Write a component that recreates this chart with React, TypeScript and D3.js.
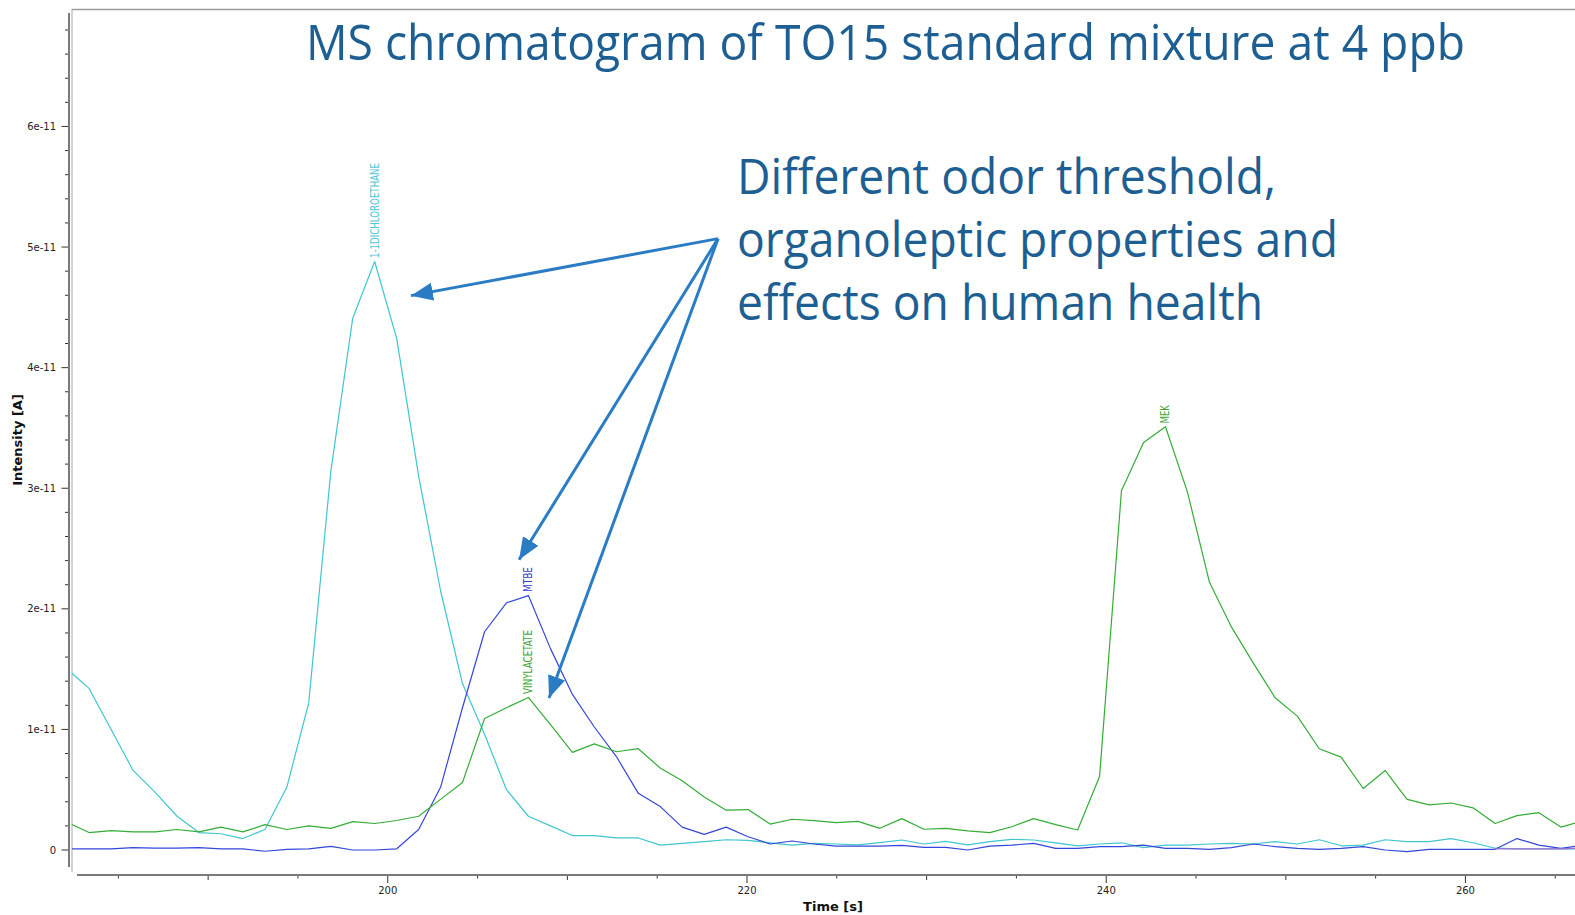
import * as d3 from "d3";

const W = 1575, H = 915;

// retention time of each scan, seconds
const TIMES = [
  182.15, 183.37, 184.6, 185.82, 187.04, 188.27, 189.49, 190.71, 191.93, 193.16,
  194.38, 195.6, 196.83, 198.05, 199.27, 200.5, 201.72, 202.94, 204.16, 205.39,
  206.61, 207.83, 209.06, 210.28, 211.5, 212.73, 213.95, 215.17, 216.39, 217.62,
  218.84, 220.06, 221.29, 222.51, 223.73, 224.96, 226.18, 227.4, 228.62, 229.85,
  231.07, 232.29, 233.52, 234.74, 235.96, 237.19, 238.41, 239.63, 240.85, 242.08,
  243.3, 244.52, 245.75, 246.97, 248.19, 249.42, 250.64, 251.86, 253.08, 254.31,
  255.53, 256.75, 257.98, 259.2, 260.42, 261.65, 262.87, 264.09, 265.31, 266.54,
];

// intensities in units of 1e-12 A
const DICHLOROETHANE = [
  15.0, 13.4, 10.0, 6.6, 4.8, 2.8, 1.45, 1.35, 0.95, 1.7,
  5.2, 12.2, 31.4, 44.1, 48.8, 42.4, 31.0, 21.5, 13.8, 9.6,
  5.0, 2.8, 2.0, 1.2, 1.2, 1.0, 1.0, 0.4, 0.55, 0.7,
  0.85, 0.8, 0.6, 0.4, 0.55, 0.5, 0.42, 0.61, 0.83, 0.5,
  0.72, 0.42, 0.69, 0.89, 0.83, 0.6, 0.35, 0.5, 0.6, 0.2,
  0.4, 0.4, 0.5, 0.55, 0.5, 0.7, 0.5, 0.85, 0.35, 0.4,
  0.85, 0.7, 0.7, 0.95, 0.6, 0.15, 0.1, 0.1, 0.1, 0.1,
];
const MTBE = [
  0.1, 0.1, 0.1, 0.2, 0.15, 0.15, 0.2, 0.1, 0.1, -0.1,
  0.05, 0.1, 0.3, 0.0, 0.0, 0.1, 1.7, 5.2, 11.8, 18.1,
  20.5, 21.1, 16.7, 12.9, 10.2, 7.75, 4.7, 3.6, 1.9, 1.3,
  1.9, 1.1, 0.5, 0.75, 0.5, 0.33, 0.33, 0.33, 0.39, 0.22,
  0.22, 0.0, 0.33, 0.41, 0.55, 0.14, 0.14, 0.28, 0.28, 0.4,
  0.14, 0.14, 0.06, 0.2, 0.5, 0.28, 0.14, 0.06, 0.14, 0.28,
  0.0, -0.14, 0.06, 0.06, 0.06, 0.06, 0.95, 0.4, 0.14, 0.4,
];
// vinyl acetate and MEK share one trace
const VINYL_MEK = [
  2.3, 1.45, 1.6, 1.5, 1.5, 1.7, 1.5, 1.9, 1.5, 2.1,
  1.7, 2.0, 1.8, 2.35, 2.2, 2.45, 2.8, 4.2, 5.6, 10.9,
  11.8, 12.65, 10.4, 8.1, 8.8, 8.15, 8.4, 6.8, 5.75, 4.4,
  3.3, 3.35, 2.15, 2.55, 2.43, 2.27, 2.38, 1.8, 2.6, 1.72,
  1.8, 1.58, 1.44, 1.93, 2.6, 2.1, 1.66, 6.1, 29.8, 33.8,
  35.1, 29.7, 22.2, 18.5, 15.5, 12.6, 11.1, 8.4, 7.7, 5.1,
  6.6, 4.2, 3.75, 3.9, 3.5, 2.2, 2.85, 3.1, 1.9, 2.4,
];
const OTHER = [
  null, null, null, null, null, null, null, null, null, null,
  null, null, null, null, null, null, null, null, null, null,
  null, null, null, null, null, null, null, null, null, null,
  null, null, null, null, null, null, null, null, null, null,
  null, null, null, null, null, null, null, null, null, null,
  null, null, null, null, null, null, null, null, null, null,
  null, null, null, null, null, 0.1, 0.1, 0.1, 0.1, 0.15,
];

const Y_MAJOR = [0, 10, 20, 30, 40, 50, 60];
const Y_LABELS = ["0", "1e-11", "2e-11", "3e-11", "4e-11", "5e-11", "6e-11"];
const X_MAJOR = [200, 220, 240, 260];
const X_LABELS = ["200", "220", "240", "260"];

const SERIES = [
  { key: "dce", values: DICHLOROETHANE, color: "#3fc6cf" },
  { key: "mtbe", values: MTBE, color: "#3347d9" },
  { key: "vm", values: VINYL_MEK, color: "#34ad37" },
  { key: "other", values: OTHER, color: "#a46ad6" },
];

const PEAKS = [
  { name: "1-1DICHLOROETHANE", values: DICHLOROETHANE, idx: 14, len: 95, color: "#52c6d8" },
  { name: "MTBE", values: MTBE, idx: 21, len: 25, color: "#3a3ccc" },
  { name: "VINYLACETATE", values: VINYL_MEK, idx: 21, len: 64, color: "#3fa63a" },
  { name: "MEK", values: VINYL_MEK, idx: 50, len: 18, color: "#3fa63a" },
];

// annotation arrows, in data coordinates [time, intensity]
const ARROW_FROM = [218.39, 50.7];
const ARROW_TO = [[201.29, 45.97], [207.31, 24.07], [208.98, 12.61]];

const TITLE = "MS chromatogram of TO15 standard mixture at 4 ppb";
const NOTE = ["Different odor threshold,", "organoleptic properties and", "effects on human health"];
const NOTE_LEN = [539, 601, 526];

const BLUE_TEXT = "#1d5f92";
const ARROW = "#2a7dc5";

export default function App() {
  const x = d3.scaleLinear().domain([182.42, 266.1]).range([72, 1575]);
  const y = d3.scaleLinear().domain([-1.4, 69.4]).range([866.9, 13.1]);

  const line = d3.line<number | null>()
    .defined(d => d !== null)
    .x((_, i) => x(TIMES[i]))
    .y(d => y(d as number));

  const yMinor = d3.range(0, 70, 2);
  const xMinor = d3.range(185, 266, 5);
  const ff = "'DejaVu Sans', Verdana, sans-serif";

  return (
    <div style={{ position: "absolute", left: 0, top: 0 }}>
      <svg width={W} height={H} style={{ display: "block", background: "#fff" }}>
        <defs>
          <clipPath id="plot-clip">
            <rect x={72} y={9} width={W - 72} height={866} />
          </clipPath>
          <marker id="head" markerUnits="userSpaceOnUse" markerWidth={24} markerHeight={20}
            refX={22} refY={9} orient="auto">
            <path d="M0,0 L22,9 L0,18 Z" fill={ARROW} />
          </marker>
        </defs>

        {/* plot frame */}
        <line x1={72} x2={W} y1={9.5} y2={9.5} stroke="#9a9a9a" strokeWidth={1.5} />
        <line x1={72} x2={72} y1={9} y2={872} stroke="#a8a8a8" strokeWidth={1} />

        {/* y axis */}
        <line x1={69} x2={69} y1={y(69.4)} y2={y(-1.4)} stroke="#7a7a7a" strokeWidth={2} />
        {yMinor.map(v => (
          <line key={v} x1={Y_MAJOR.includes(v) ? 61.5 : 65} x2={68} y1={y(v)} y2={y(v)}
            stroke="#333" strokeWidth={1} />
        ))}
        {Y_MAJOR.map((v, i) => (
          <text key={v} x={56} y={y(v)} dy="0.35em" textAnchor="end" fontSize={10}
            fontFamily={ff} fill="#222">{Y_LABELS[i]}</text>
        ))}
        <text transform={`translate(22,440) rotate(-90)`} textAnchor="middle" fontSize={13}
          fontWeight="bold" fontFamily={ff} fill="#111">Intensity [A]</text>

        {/* x axis */}
        <line x1={77} x2={W} y1={875} y2={875} stroke="#7a7a7a" strokeWidth={2} />
        {xMinor.map(v => (
          <line key={v} x1={x(v)} x2={x(v)} y1={876} y2={876 + (v % 20 === 0 ? 7 : v % 10 === 0 ? 4 : 2.5)}
            stroke="#333" strokeWidth={1} />
        ))}
        {X_MAJOR.map((v, i) => (
          <text key={v} x={x(v)} y={894} textAnchor="middle" fontSize={10}
            fontFamily={ff} fill="#222">{X_LABELS[i]}</text>
        ))}
        <text x={833} y={911} textAnchor="middle" fontSize={13} fontWeight="bold"
          fontFamily={ff} fill="#111">Time [s]</text>

        {/* traces */}
        <g clipPath="url(#plot-clip)" fill="none" strokeWidth={1.2} strokeLinejoin="round">
          {SERIES.map(s => (
            <path key={s.key} d={line(s.values) || ""} stroke={s.color} />
          ))}
        </g>

        {/* peak labels */}
        {PEAKS.map(p => (
          <text key={p.name}
            transform={`translate(${x(TIMES[p.idx]) + 4},${y(p.values[p.idx]) - 3.5}) rotate(-90)`}
            fontSize={11.5} fontFamily="'Liberation Sans Narrow', 'DejaVu Sans Condensed', sans-serif"
            fill={p.color} textLength={p.len} lengthAdjust="spacingAndGlyphs">{p.name}</text>
        ))}

        {/* title and note */}
        <text x={306} y={60} fontSize={50} fontFamily="'Open Sans', Lato, sans-serif"
          fill={BLUE_TEXT} textLength={1159} lengthAdjust="spacingAndGlyphs">{TITLE}</text>
        {NOTE.map((s, i) => (
          <text key={i} x={737} y={194 + i * 63} fontSize={49} fontFamily="'Open Sans', Lato, sans-serif"
            fill={BLUE_TEXT} textLength={NOTE_LEN[i]} lengthAdjust="spacingAndGlyphs">{s}</text>
        ))}

        {/* arrows */}
        {ARROW_TO.map((t, i) => (
          <line key={i} x1={x(ARROW_FROM[0])} y1={y(ARROW_FROM[1])} x2={x(t[0])} y2={y(t[1])}
            stroke={ARROW} strokeWidth={3} markerEnd="url(#head)" />
        ))}
      </svg>
    </div>
  );
}
